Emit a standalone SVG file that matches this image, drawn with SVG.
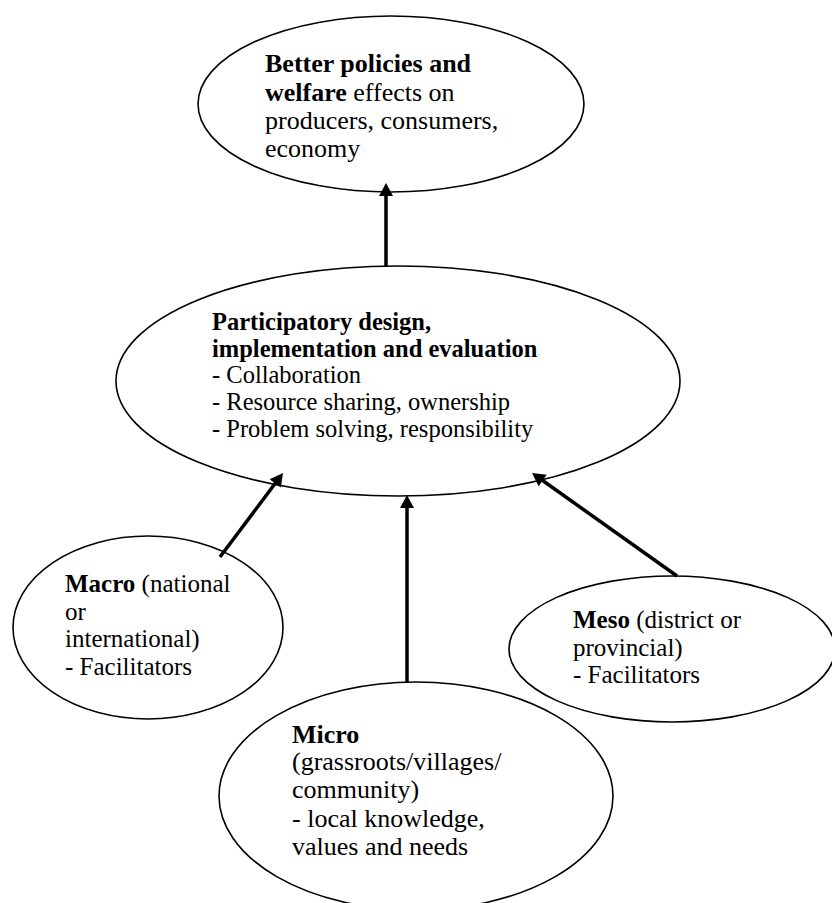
<svg xmlns="http://www.w3.org/2000/svg" width="832" height="903" viewBox="0 0 832 903">
<style>
.node ellipse{fill:#fff;stroke:#000;stroke-width:1.6}
text{font-family:"Liberation Serif","Times New Roman",serif;fill:#000}
.b{font-weight:bold}
.conn line{stroke:#000;stroke-width:3.5}
</style>
<defs>
<marker id="ah" markerUnits="userSpaceOnUse" markerWidth="14" markerHeight="14" refX="3" refY="7" orient="auto" overflow="visible">
<path d="M0,0 L13,7 L0,14 z" fill="#000"/>
</marker>
</defs>
<rect width="832" height="903" fill="#fff"/>
<g id="n-top" class="node">
<ellipse cx="391" cy="104" rx="193" ry="88"/>
<text font-size="26"><tspan x="265" y="72" class="b">Better policies and</tspan><tspan x="265" y="100.5"><tspan class="b">welfare</tspan> effects on</tspan><tspan x="265" y="128.5">producers, consumers,</tspan><tspan x="265" y="157">economy</tspan></text>
</g>
<g id="n-mid" class="node">
<ellipse cx="398" cy="381" rx="282" ry="115"/>
<text font-size="24.5"><tspan x="212" y="330" class="b">Participatory design,</tspan><tspan x="212" y="357" class="b">implementation and evaluation</tspan><tspan x="212" y="383">- Collaboration</tspan><tspan x="212" y="410">- Resource sharing, ownership</tspan><tspan x="212" y="437">- Problem solving, responsibility</tspan></text>
</g>
<g id="n-macro" class="node">
<ellipse cx="148" cy="627.5" rx="135" ry="91.5"/>
<text font-size="25"><tspan x="65" y="592"><tspan class="b">Macro</tspan> (national</tspan><tspan x="65" y="620">or</tspan><tspan x="65" y="647">international)</tspan><tspan x="65" y="675">- Facilitators</tspan></text>
</g>
<g id="n-meso" class="node">
<ellipse cx="672" cy="649" rx="163" ry="73"/>
<text font-size="25"><tspan x="573" y="628"><tspan class="b">Meso</tspan> (district or</tspan><tspan x="573" y="656">provincial)</tspan><tspan x="573" y="683">- Facilitators</tspan></text>
</g>
<g id="n-micro" class="node">
<ellipse cx="416" cy="796" rx="197" ry="114"/>
<text font-size="26"><tspan x="292" y="743" class="b">Micro</tspan><tspan x="292" y="770">(grassroots/villages/</tspan><tspan x="292" y="798">community)</tspan><tspan x="292" y="827">- local knowledge,</tspan><tspan x="292" y="855">values and needs</tspan></text>
</g>
<g id="connectors" class="conn">
<line x1="386" y1="266" x2="386" y2="193" marker-end="url(#ah)"/>
<line x1="220" y1="557" x2="277" y2="481" marker-end="url(#ah)"/>
<line x1="407" y1="682" x2="407" y2="505" marker-end="url(#ah)"/>
<line x1="677" y1="576" x2="540.2" y2="478.8" marker-end="url(#ah)"/>
</g>
</svg>
